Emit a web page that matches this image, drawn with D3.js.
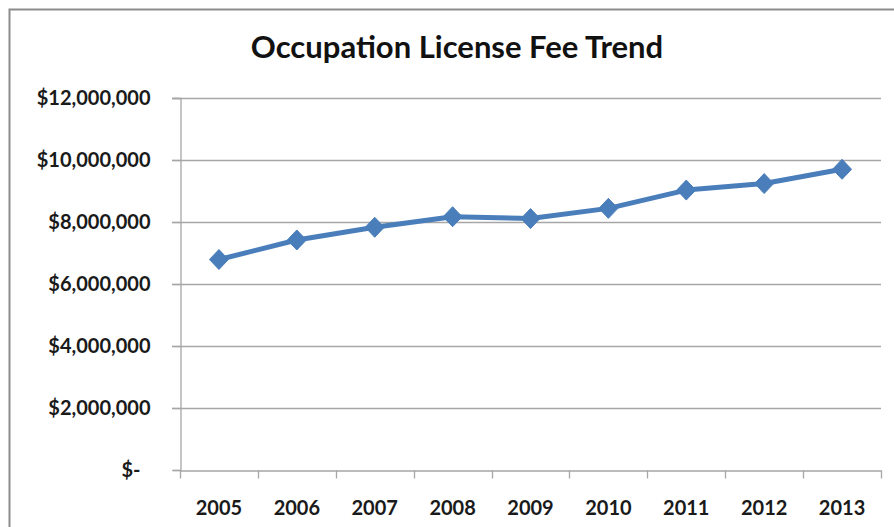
<!DOCTYPE html>
<html>
<head>
<meta charset="utf-8">
<script src="https://cdn.jsdelivr.net/npm/d3@7"></script>
<style>
  body { margin: 0; background: #fff; }
  svg { display: block; font-family: Lato, "Open Sans", sans-serif; }
</style>
</head>
<body>
<svg id="chart" width="894" height="527"></svg>
<script>
// chart data
const years = ['2005', '2006', '2007', '2008', '2009', '2010', '2011', '2012', '2013'];
const fees = [6790000, 7420000, 7830000, 8170000, 8110000, 8440000, 9030000, 9240000, 9700000];
const yTicks = [0, 2000000, 4000000, 6000000, 8000000, 10000000, 12000000];
const title = 'Occupation License Fee Trend';

const svg = d3.select('#chart');
const margin = { top: 98, right: 13, bottom: 57, left: 180 };
const width = 894, height = 527;
const font = 'Lato, "Open Sans", sans-serif';

// outer frame of the chart area
svg.append('rect')
    .attr('x', 9.5).attr('y', 9.5)
    .attr('width', 900).attr('height', 540)
    .attr('fill', 'white')
    .attr('stroke', '#8c8c8c')
    .attr('stroke-width', 2);

const x = d3.scaleBand()
    .domain(years)
    .range([margin.left, width - margin.right])
    .padding(0);

const y = d3.scaleLinear()
    .domain([0, 12000000])
    .range([height - margin.bottom, margin.top]);

const money = d => d === 0 ? '$-' : '$' + d3.format(',')(d);

// gridlines
svg.append('g')
    .selectAll('line')
    .data(yTicks.filter(d => d > 0))
    .join('line')
    .attr('x1', margin.left - 8)
    .attr('x2', width - margin.right)
    .attr('y1', d => Math.round(y(d)) + 0.5)
    .attr('y2', d => Math.round(y(d)) + 0.5)
    .attr('stroke', '#a6a6a6')
    .attr('stroke-width', 1.3);

// y axis
const yAxis = svg.append('g')
    .attr('transform', `translate(${margin.left + 0.5},0)`)
    .call(d3.axisLeft(y).tickValues(yTicks).tickFormat(money).tickSize(8).tickPadding(22))
    .attr('font-family', font);
yAxis.select('.domain').attr('stroke', '#a6a6a6').attr('stroke-width', 1.3);
yAxis.selectAll('.tick line').attr('stroke', '#a6a6a6').attr('stroke-width', 1.3);
yAxis.selectAll('.tick text')
    .attr('font-size', 20)
    .attr('font-weight', 'bold')
    .attr('fill', '#1a1a1a')
    .attr('dx', d => d === 0 ? -10 : 0);

// x axis, ticks sit on the category boundaries
const xAxis = svg.append('g')
    .attr('transform', `translate(0,${Math.round(y(0)) + 0.5})`)
    .call(d3.axisBottom(x).tickSize(0).tickPadding(30))
    .attr('font-family', font);
xAxis.select('.domain').attr('stroke', '#a6a6a6').attr('stroke-width', 1.3);
xAxis.selectAll('.tick text')
    .attr('font-size', 20)
    .attr('font-weight', 'bold')
    .attr('fill', '#1a1a1a');
xAxis.append('g')
    .selectAll('line')
    .data(years.map(d => x(d)).concat([x(years[years.length - 1]) + x.bandwidth()]))
    .join('line')
    .attr('x1', d => Math.round(d) + 0.5)
    .attr('x2', d => Math.round(d) + 0.5)
    .attr('y1', 0)
    .attr('y2', 8)
    .attr('stroke', '#a6a6a6')
    .attr('stroke-width', 1.3);

// series line
const line = d3.line()
    .x((d, i) => x(years[i]) + x.bandwidth() / 2)
    .y(d => y(d));

svg.append('path')
    .datum(fees)
    .attr('d', line)
    .attr('fill', 'none')
    .attr('stroke', '#4a7ebb')
    .attr('stroke-width', 5)
    .attr('stroke-linejoin', 'round');

// diamond markers
svg.append('g')
    .selectAll('path')
    .data(fees)
    .join('path')
    .attr('transform', (d, i) => `translate(${x(years[i]) + x.bandwidth() / 2},${y(d)})`)
    .attr('d', 'M0,-10L9.5,0L0,10L-9.5,0Z')
    .attr('fill', '#4a7ebb')
    .attr('stroke', '#4a7ebb')
    .attr('stroke-width', 1);

// title
svg.append('text')
    .attr('x', 457)
    .attr('y', 58)
    .attr('text-anchor', 'middle')
    .attr('font-size', 31)
    .attr('font-weight', 'bold')
    .attr('fill', '#111')
    .text(title);
</script>
</body>
</html>
